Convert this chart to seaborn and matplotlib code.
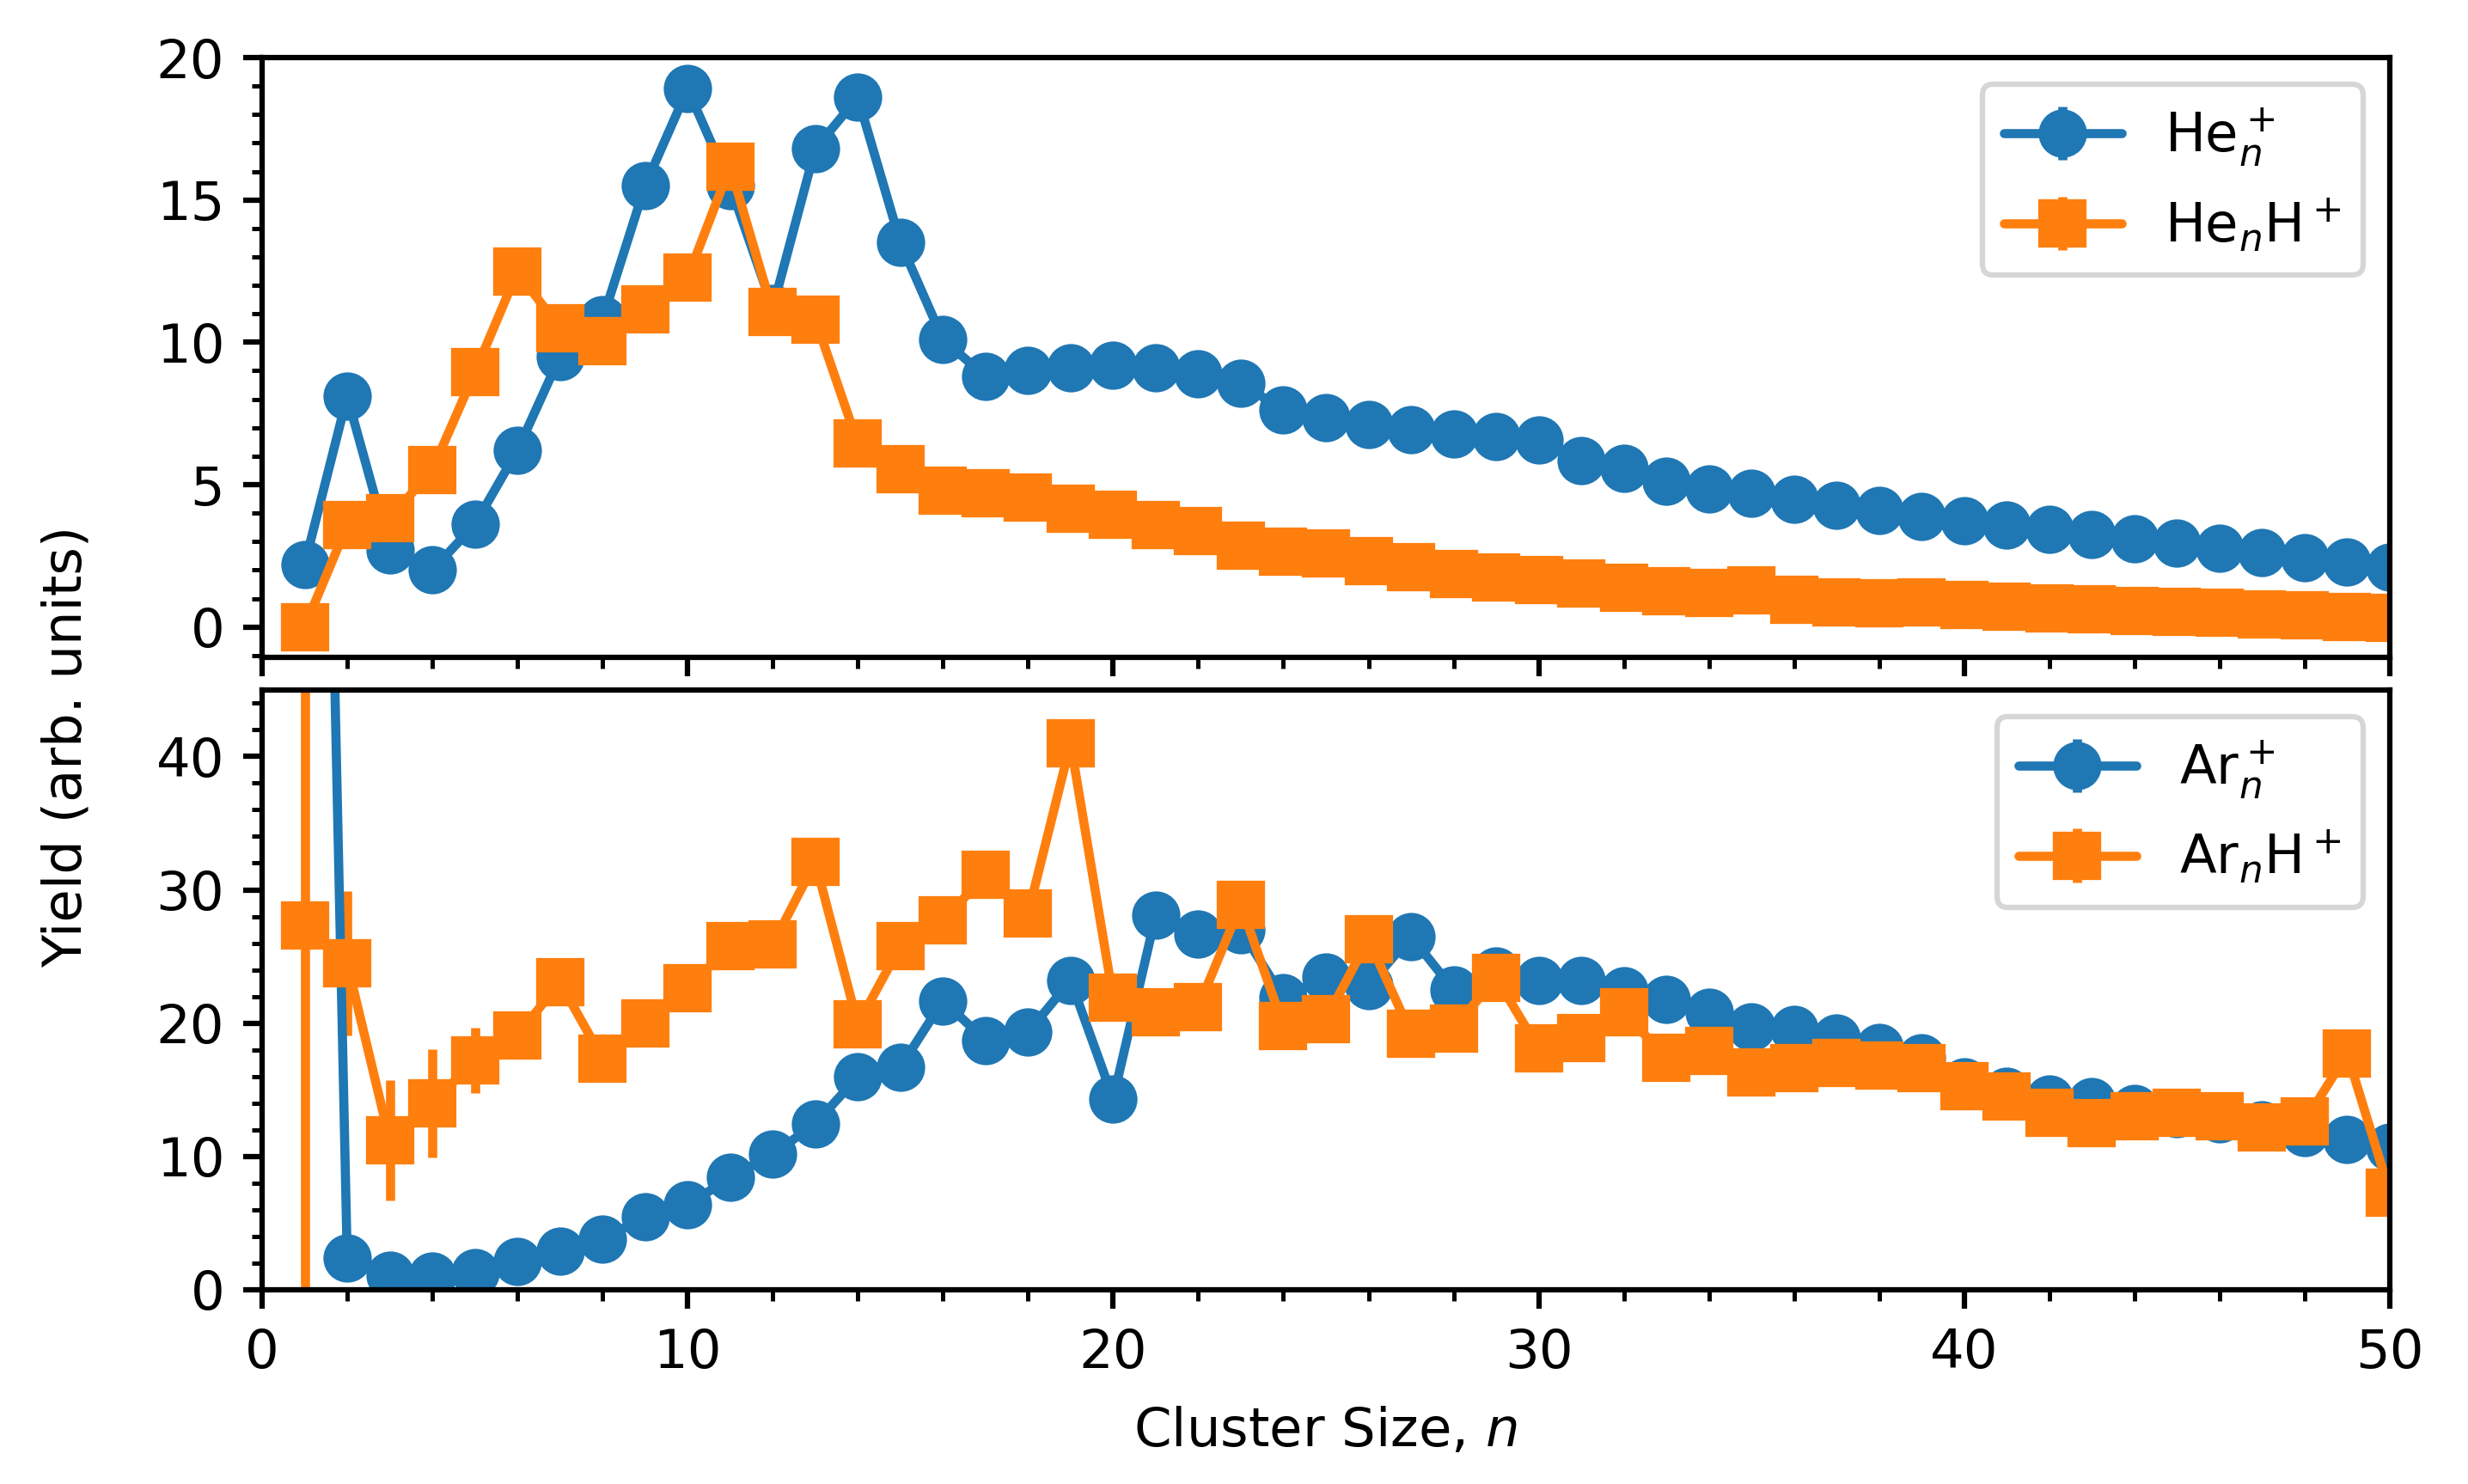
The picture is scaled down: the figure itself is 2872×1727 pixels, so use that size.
import numpy as np
import matplotlib
matplotlib.use("Agg")
import matplotlib.pyplot as plt
import matplotlib.ticker as ticker
import seaborn as sns

# cluster sizes
n = np.arange(1, 51)

# He cluster yields (top panel)
he_n = [2.2, 8.1, 2.7, 2.0, 3.6, 6.2, 9.5, 10.8, 15.5, 18.9,
        15.5, 11.2, 16.8, 18.6, 13.5, 10.1, 8.8, 9.0, 9.1, 9.2,
        9.1, 8.9, 8.56, 7.62, 7.36, 7.12, 6.92, 6.78, 6.7, 6.56,
        5.86, 5.58, 5.12, 4.86, 4.69, 4.49, 4.28, 4.09, 3.89, 3.74,
        3.57, 3.42, 3.25, 3.09, 2.94, 2.77, 2.61, 2.44, 2.28, 2.11]
he_n_err = [0.2, 0.3, 0.2, 0.2, 0.2, 0.2, 0.3, 0.3, 0.3, 0.3,
            0.3, 0.3, 0.3, 0.3, 0.3, 0.2, 0.2, 0.2, 0.2, 0.2,
            0.2, 0.2, 0.2, 0.2, 0.2, 0.2, 0.2, 0.2, 0.2, 0.2,
            0.1, 0.1, 0.1, 0.1, 0.1, 0.1, 0.1, 0.1, 0.1, 0.1,
            0.1, 0.1, 0.1, 0.1, 0.1, 0.1, 0.1, 0.1, 0.1, 0.1]
hen_h = [0.0, 3.57, 3.82, 5.52, 8.94, 12.48, 10.49, 10.04, 11.17, 12.27,
         16.18, 11.07, 10.81, 6.45, 5.53, 4.79, 4.69, 4.56, 4.14, 3.94,
         3.57, 3.37, 2.85, 2.64, 2.58, 2.31, 2.10, 1.85, 1.74, 1.65,
         1.53, 1.37, 1.25, 1.21, 1.28, 0.97, 0.87, 0.83, 0.86, 0.76,
         0.71, 0.66, 0.62, 0.57, 0.53, 0.49, 0.44, 0.40, 0.36, 0.32]
hen_h_err = [0.3, 0.4, 0.3, 0.3, 0.3, 0.3, 0.3, 0.3, 0.3, 0.3,
             0.3, 0.3, 0.3, 0.2, 0.2, 0.2, 0.2, 0.2, 0.2, 0.2,
             0.1, 0.1, 0.1, 0.1, 0.1, 0.1, 0.1, 0.1, 0.1, 0.1,
             0.1, 0.1, 0.1, 0.1, 0.1, 0.1, 0.1, 0.1, 0.1, 0.1,
             0.1, 0.1, 0.1, 0.1, 0.1, 0.1, 0.1, 0.1, 0.1, 0.1]

# Ar cluster yields (bottom panel)
ar_n = [150.0, 2.4, 1.1, 1.0, 1.3, 2.1, 2.9, 3.8, 5.45, 6.36,
        8.41, 10.16, 12.46, 15.98, 16.7, 21.68, 18.72, 19.31, 23.2, 14.33,
        28.07, 26.67, 27.0, 21.9, 23.46, 22.8, 26.5, 22.5, 23.9, 23.2,
        23.2, 22.4, 21.8, 20.8, 19.7, 19.5, 18.9, 18.2, 17.4, 15.6,
        14.9, 14.3, 14.1, 13.6, 13.2, 12.8, 12.4, 11.8, 11.25, 10.7]
ar_n_err = [10.0, 0.5, 0.3, 0.3, 0.3, 0.3, 0.3, 0.3, 0.4, 0.4,
            0.4, 0.5, 0.5, 0.5, 0.5, 0.6, 0.5, 0.5, 0.6, 0.5,
            0.6, 0.6, 0.6, 0.5, 0.5, 0.5, 0.5, 0.5, 0.5, 0.5,
            0.5, 0.5, 0.5, 0.5, 0.5, 0.5, 0.5, 0.5, 0.5, 0.4,
            0.4, 0.4, 0.4, 0.4, 0.4, 0.4, 0.4, 0.4, 0.4, 0.4]
arn_h = [27.35, 24.5, 11.2, 14.0, 17.2, 19.1, 23.05, 17.35, 20.0, 22.6,
         25.8, 25.9, 32.1, 19.9, 25.8, 27.7, 31.1, 28.2, 41.0, 21.9,
         20.8, 21.2, 28.9, 19.8, 20.3, 26.3, 19.2, 19.6, 23.4, 18.1,
         18.9, 20.8, 17.4, 17.9, 16.3, 16.6, 17.0, 16.8, 16.6, 15.3,
         14.5, 13.3, 12.5, 13.0, 13.3, 13.0, 12.2, 12.6, 17.7, 7.3]
arn_h_err = [60.0, 5.4, 4.5, 4.05, 2.45, 1.2, 1.0, 1.0, 1.0, 1.0,
             1.0, 1.0, 1.0, 1.0, 1.0, 1.0, 1.0, 1.0, 1.0, 1.0,
             1.0, 1.0, 1.0, 1.0, 1.0, 1.0, 1.0, 1.0, 1.0, 1.0,
             1.0, 1.0, 1.0, 1.0, 1.0, 1.0, 1.0, 1.0, 1.0, 1.0,
             1.0, 1.0, 1.0, 1.0, 1.0, 1.0, 1.0, 1.0, 1.0, 1.0]

sns.set_style("ticks", {"axes.edgecolor": "black", "xtick.color": "black",
                        "ytick.color": "black", "text.color": "black",
                        "axes.labelcolor": "black"})
plt.rcParams.update({
    "font.family": ["DejaVu Sans"],
    "font.size": 10,
    "axes.linewidth": 1.0,
    "xtick.major.width": 1.0, "ytick.major.width": 1.0,
    "xtick.minor.width": 0.8, "ytick.minor.width": 0.8,
    "xtick.major.size": 3.5, "ytick.major.size": 3.5,
    "xtick.minor.size": 2.0, "ytick.minor.size": 2.0,
    "legend.frameon": True,
    "legend.edgecolor": "0.8",
    "legend.framealpha": 0.8,
})
colors = sns.color_palette("tab10")

fig, (ax1, ax2) = plt.subplots(2, 1, sharex=True, figsize=(2872 / 450, 1727 / 450), dpi=450)
fig.subplots_adjust(left=0.1062, right=0.9683, top=0.9612, bottom=0.1309, hspace=0.054)

style = dict(lw=1.7, ms=8)
ax1.errorbar(n, he_n, yerr=he_n_err, fmt="-o", color=colors[0], label=r"He$_n^+$", **style)
ax1.errorbar(n, hen_h, yerr=hen_h_err, fmt="-s", color=colors[1], label=r"He$_n$H$^+$", **style)
ax2.errorbar(n, ar_n, yerr=ar_n_err, fmt="-o", color=colors[0], label=r"Ar$_n^+$", **style)
ax2.errorbar(n, arn_h, yerr=arn_h_err, fmt="-s", color=colors[1], label=r"Ar$_n$H$^+$", **style)

ax1.set_ylim(-1.07, 20)
ax2.set_ylim(0, 45)
ax2.set_xlim(0, 50)

ax1.yaxis.set_major_locator(ticker.MultipleLocator(5))
ax1.yaxis.set_minor_locator(ticker.MultipleLocator(1))
ax2.yaxis.set_major_locator(ticker.MultipleLocator(10))
ax2.yaxis.set_minor_locator(ticker.MultipleLocator(2))
ax2.xaxis.set_major_locator(ticker.MultipleLocator(10))
ax2.xaxis.set_minor_locator(ticker.MultipleLocator(2))

for ax in (ax1, ax2):
    for s in ax.spines.values():
        s.set_visible(True)
    ax.legend(loc="upper right", handlelength=2.2)

ax2.set_xlabel(r"Cluster Size, $n$", labelpad=5)
fig.text(0.027, 0.497, "Yield (arb. units)", rotation=90, va="center", ha="center")

fig.savefig("out.png", dpi=450)
